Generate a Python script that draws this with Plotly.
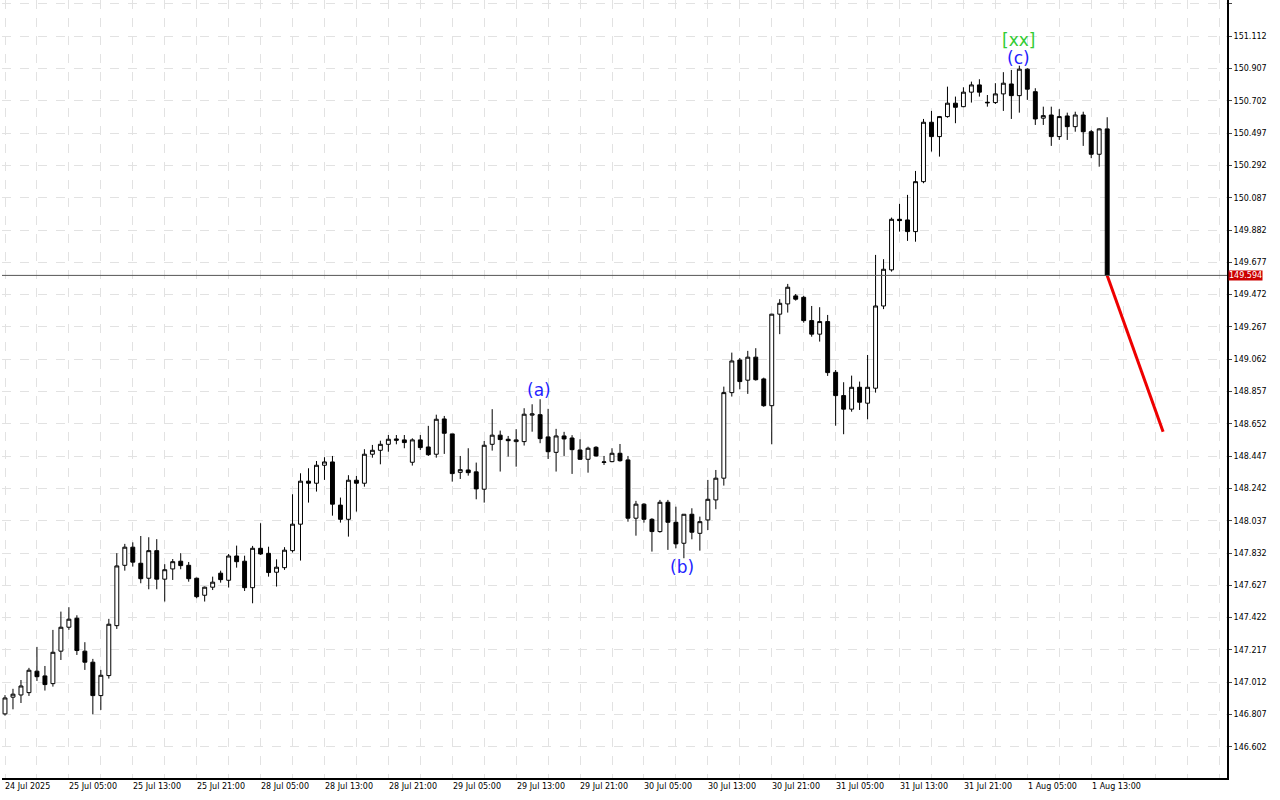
import plotly.graph_objects as go

# hourly USDJPY-like bars
opens = [146.811, 146.917, 146.931, 146.946, 147.082, 147.052, 147.003, 147.209, 147.361, 147.418,
         147.209, 147.139, 146.927, 147.054, 147.371, 147.754, 147.869, 147.767, 147.672, 147.847,
         147.666, 147.731, 147.780, 147.754, 147.672, 147.564, 147.615, 147.704, 147.659, 147.813,
         147.780, 147.612, 147.862, 147.830, 147.710, 147.739, 147.847, 148.015, 148.288, 148.275,
         148.389, 148.410, 148.136, 148.046, 148.294, 148.275, 148.459, 148.484, 148.522, 148.556,
         148.550, 148.408, 148.550, 148.505, 148.459, 148.683, 148.588, 148.344, 148.359, 148.347,
         148.237, 148.522, 148.580, 148.554, 148.539, 148.539, 148.707, 148.710, 148.569, 148.471,
         148.575, 148.562, 148.486, 148.427, 148.503, 148.407, 148.412, 148.465, 148.423, 148.053,
         148.142, 148.046, 147.968, 148.154, 148.027, 147.894, 148.078, 147.957, 148.042, 148.169,
         148.307, 148.850, 149.057, 148.929, 149.075, 148.937, 148.767, 149.348, 149.413, 149.464,
         149.455, 149.307, 149.221, 149.301, 148.979, 148.831, 148.745, 148.884, 148.783, 148.878,
         149.400, 149.629, 149.950, 149.946, 149.872, 150.189, 150.566, 150.475, 150.602, 150.687,
         150.665, 150.757, 150.803, 150.693, 150.691, 150.746, 150.809, 150.735, 150.903, 150.760,
         150.592, 150.612, 150.475, 150.606, 150.538, 150.612, 150.506, 150.363, 150.524]
highs = [146.930, 146.970, 147.026, 147.103, 147.236, 147.115, 147.344, 147.460, 147.488, 147.437,
         147.266, 147.160, 147.090, 147.414, 147.831, 147.890, 147.900, 147.940, 147.932, 147.920,
         147.761, 147.794, 147.831, 147.775, 147.676, 147.619, 147.682, 147.720, 147.826, 147.879,
         147.815, 147.877, 148.021, 147.872, 147.792, 147.869, 148.205, 148.338, 148.370, 148.416,
         148.440, 148.448, 148.184, 148.326, 148.321, 148.491, 148.518, 148.545, 148.581, 148.581,
         148.581, 148.560, 148.581, 148.639, 148.710, 148.702, 148.588, 148.448, 148.497, 148.406,
         148.543, 148.745, 148.609, 148.575, 148.618, 148.751, 148.776, 148.808, 148.747, 148.620,
         148.601, 148.580, 148.554, 148.507, 148.510, 148.448, 148.497, 148.524, 148.448, 148.163,
         148.148, 148.053, 148.169, 148.169, 148.126, 148.078, 148.116, 148.063, 148.296, 148.359,
         148.888, 149.104, 149.070, 149.115, 149.132, 148.945, 149.350, 149.443, 149.540, 149.476,
         149.464, 149.400, 149.392, 149.343, 148.994, 148.916, 148.958, 148.920, 149.089, 149.724,
         149.697, 149.961, 150.048, 150.105, 150.257, 150.587, 150.638, 150.606, 150.792, 150.729,
         150.788, 150.824, 150.839, 150.739, 150.814, 150.884, 150.898, 150.925, 150.909, 150.782,
         150.665, 150.665, 150.649, 150.627, 150.633, 150.633, 150.517, 150.528, 150.598]
lows = [146.800, 146.840, 146.880, 146.925, 147.020, 146.959, 146.984, 147.153, 147.344, 147.185,
        147.090, 146.809, 146.836, 147.035, 147.350, 147.720, 147.746, 147.640, 147.602, 147.602,
        147.524, 147.661, 147.729, 147.650, 147.545, 147.524, 147.597, 147.644, 147.613, 147.739,
        147.591, 147.513, 147.820, 147.682, 147.619, 147.725, 147.835, 147.784, 148.152, 148.222,
        148.296, 148.069, 148.025, 147.936, 148.095, 148.253, 148.437, 148.395, 148.475, 148.522,
        148.497, 148.387, 148.486, 148.448, 148.437, 148.461, 148.285, 148.302, 148.323, 148.173,
        148.152, 148.482, 148.349, 148.444, 148.380, 148.514, 148.602, 148.529, 148.429, 148.349,
        148.448, 148.334, 148.423, 148.342, 148.444, 148.391, 148.408, 148.412, 148.031, 147.942,
        148.025, 147.841, 147.961, 147.852, 147.862, 147.799, 147.919, 147.847, 147.978, 148.110,
        148.260, 148.825, 148.871, 148.842, 148.926, 148.760, 148.522, 149.221, 149.358, 149.434,
        149.294, 149.205, 149.174, 148.956, 148.640, 148.586, 148.729, 148.740, 148.681, 148.850,
        149.380, 149.618, 149.872, 149.813, 149.808, 150.179, 150.380, 150.348, 150.595, 150.560,
        150.661, 150.691, 150.729, 150.665, 150.682, 150.638, 150.587, 150.627, 150.708, 150.549,
        150.549, 150.416, 150.454, 150.454, 150.506, 150.416, 150.338, 150.284, 149.594]
closes = [146.912, 146.936, 146.988, 147.088, 147.047, 146.997, 147.202, 147.361, 147.412, 147.213,
          147.139, 146.927, 147.056, 147.380, 147.750, 147.869, 147.774, 147.669, 147.847, 147.666,
          147.726, 147.777, 147.752, 147.669, 147.555, 147.615, 147.647, 147.663, 147.813, 147.777,
          147.612, 147.862, 147.826, 147.708, 147.742, 147.850, 148.015, 148.288, 148.275, 148.389,
          148.410, 148.142, 148.046, 148.294, 148.275, 148.459, 148.484, 148.522, 148.554, 148.548,
          148.533, 148.550, 148.501, 148.456, 148.681, 148.592, 148.336, 148.361, 148.342, 148.239,
          148.516, 148.580, 148.552, 148.545, 148.550, 148.713, 148.715, 148.558, 148.475, 148.575,
          148.556, 148.488, 148.427, 148.497, 148.448, 148.410, 148.465, 148.418, 148.053, 148.142,
          148.046, 147.968, 148.154, 148.027, 147.890, 148.078, 147.964, 148.031, 148.173, 148.307,
          148.850, 149.051, 148.920, 149.075, 148.932, 148.767, 149.348, 149.417, 149.519, 149.443,
          149.307, 149.221, 149.301, 148.977, 148.831, 148.745, 148.884, 148.789, 148.884, 149.400,
          149.633, 149.950, 149.942, 149.872, 150.189, 150.566, 150.475, 150.602, 150.687, 150.661,
          150.757, 150.803, 150.757, 150.690, 150.746, 150.814, 150.735, 150.903, 150.776, 150.587,
          150.608, 150.475, 150.602, 150.538, 150.612, 150.506, 150.363, 150.524, 149.594]

time_labels = ["24 Jul 2025", "25 Jul 05:00", "25 Jul 13:00", "25 Jul 21:00", "28 Jul 05:00",
               "28 Jul 13:00", "28 Jul 21:00", "29 Jul 05:00", "29 Jul 13:00", "29 Jul 21:00",
               "30 Jul 05:00", "30 Jul 13:00", "30 Jul 21:00", "31 Jul 05:00", "31 Jul 13:00",
               "31 Jul 21:00", "1 Aug 05:00", "1 Aug 13:00"]
price_ticks = [146.602, 146.807, 147.012, 147.217, 147.422, 147.627, 147.832, 148.037, 148.242,
               148.447, 148.652, 148.857, 149.062, 149.267, 149.472, 149.677, 149.882, 150.087,
               150.292, 150.497, 150.702, 150.907, 151.112, 151.317]
last_price = 149.594
forecast_x = [138, 145]
forecast_y = [149.594, 148.601]
wave_labels = [("(a)", 66.9, 148.867, "#1f1fff"), ("(b)", 84.75, 147.744, "#1f1fff"),
               ("(c)", 126.9, 150.974, "#1f1fff"), ("[xx]", 126.9, 151.088, "#33cc33")]

idx = list(range(len(opens)))

fig = go.Figure()
fig.add_trace(go.Candlestick(
    x=idx, open=opens, high=highs, low=lows, close=closes,
    increasing=dict(line=dict(color="black", width=1), fillcolor="white"),
    decreasing=dict(line=dict(color="black", width=1), fillcolor="black"),
    whiskerwidth=0, showlegend=False, hoverinfo="skip",
))
fig.add_trace(go.Scatter(x=forecast_x, y=forecast_y, mode="lines",
                         line=dict(color="#ee0000", width=3), showlegend=False))

fig.add_hline(y=last_price, line=dict(color="#555555", width=1))

for txt, x, y, col in wave_labels:
    fig.add_annotation(x=x, y=y, text=txt, showarrow=False,
                       font=dict(color=col, size=17, family="DejaVu Sans"))

for i, lab in enumerate(time_labels):
    fig.add_annotation(x=i * 8 - 0.2, y=0, yref="paper", yanchor="top", xanchor="left",
                       text=lab, showarrow=False, yshift=-2,
                       font=dict(size=8, color="black", family="DejaVu Sans"))

fig.add_annotation(x=1, xref="paper", y=last_price, xanchor="left", text="149.594",
                   showarrow=False, bgcolor="#cc0000", font=dict(color="white", size=8),
                   borderpad=0, xshift=1)

fig.update_layout(
    width=1280, height=800, margin=dict(l=2, r=53, t=0, b=22, autoexpand=False),
    plot_bgcolor="white", paper_bgcolor="white",
    font=dict(family="DejaVu Sans", size=8, color="black"),
    xaxis=dict(range=[-0.375, 153], rangeslider=dict(visible=False),
               tickvals=list(range(0, 154, 4)), showticklabels=False,
               showgrid=True, gridcolor="#e2e2e2", griddash="dash", zeroline=False,
               showline=True, linecolor="black", linewidth=2, mirror=False),
    yaxis=dict(range=[146.404, 151.342], side="right", tickvals=price_ticks,
               ticktext=["%.3f" % v for v in price_ticks], ticks="outside", ticklen=3,
               showgrid=True, gridcolor="#e2e2e2", griddash="dash", zeroline=False,
               showline=True, linecolor="black", linewidth=2, tickfont=dict(size=8)),
)

fig.write_html("out.html", config={"displayModeBar": False},
               post_script="document.body.style.margin='0';")
